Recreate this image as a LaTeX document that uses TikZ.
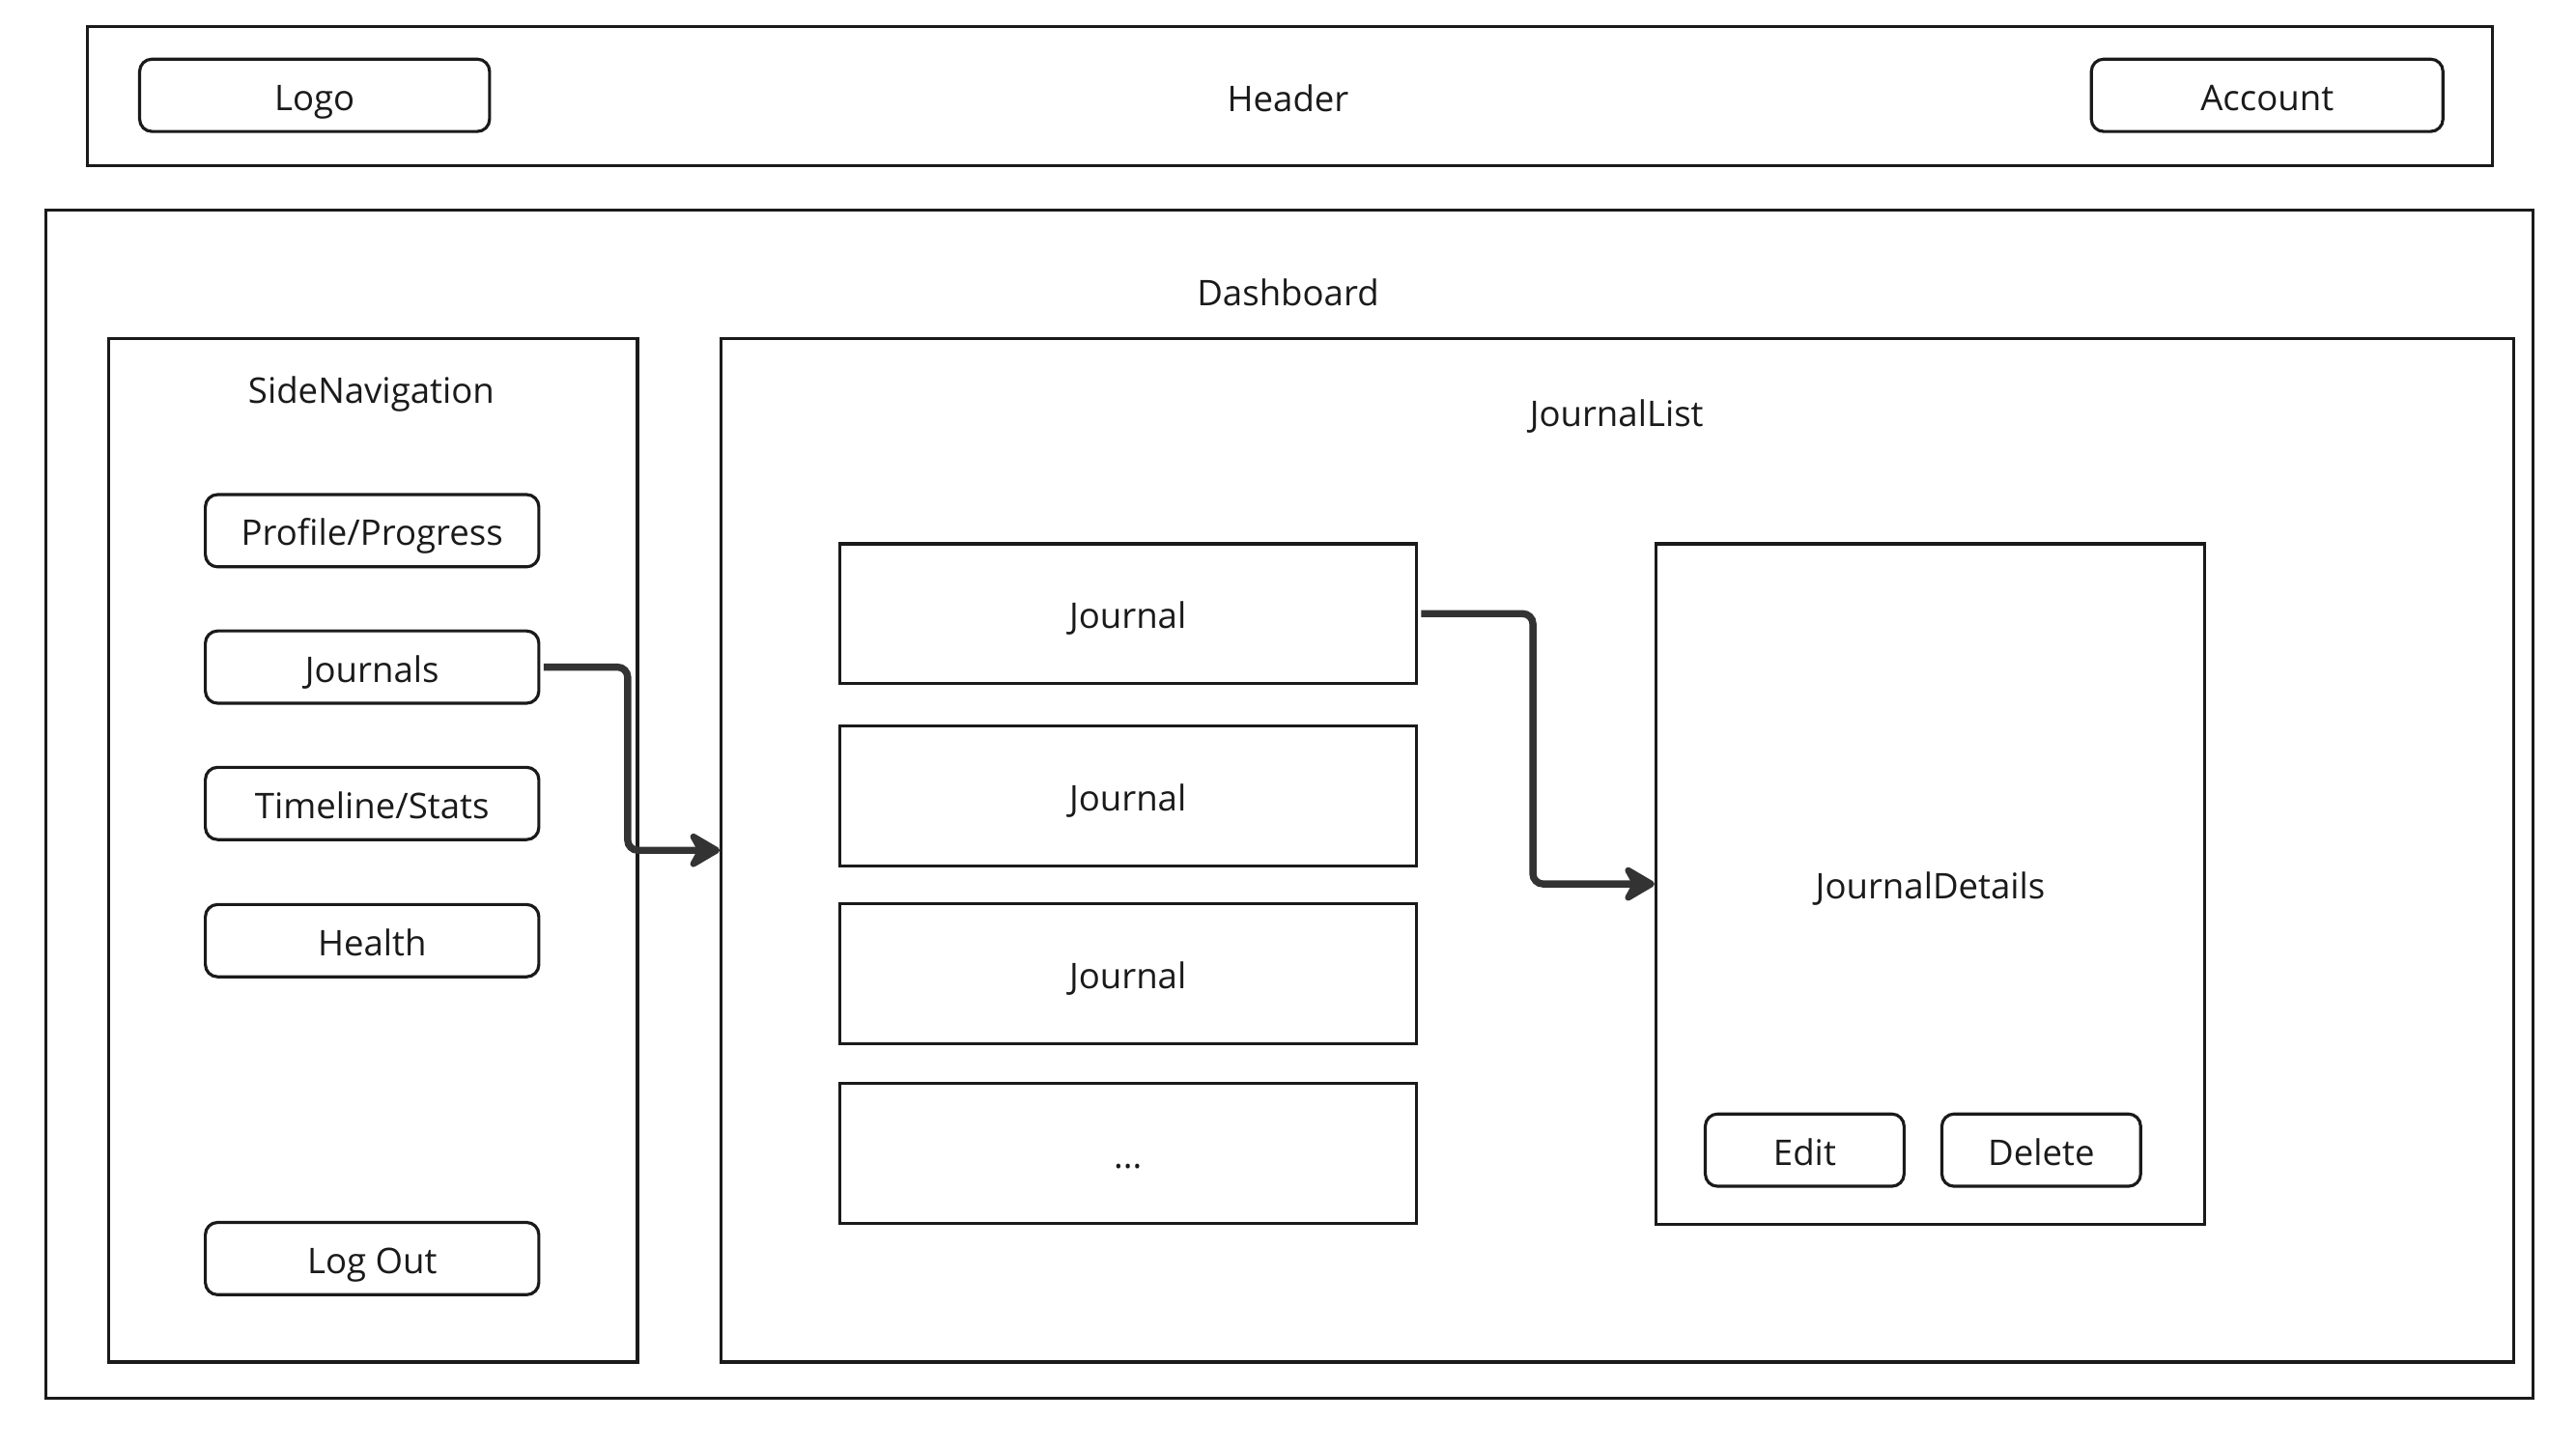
\documentclass[tikz,border=0pt]{standalone}
\usepackage{fontspec}
\setmainfont{Open Sans}
\usetikzlibrary{arrows.meta}
\newcommand{\U}{0.017cm}
\definecolor{ink}{HTML}{1A1A1A}
\definecolor{wire}{HTML}{333333}
\begin{document}
\begin{tikzpicture}[x=0.017cm, y=-0.017cm,
  every node/.style={font=\fontsize{10.4}{12}\selectfont, text=ink,
    text height=9.8pt, text depth=1pt},
  frame/.style={draw=ink, line width=0.9pt, rectangle, inner sep=0pt},
  btn/.style={draw=ink, line width=0.9pt, rectangle, rounded corners=3.6pt, inner sep=0pt,
    minimum width=203*\U, minimum height=44*\U},
  jbox/.style={frame, minimum width=351*\U, minimum height=85*\U},
  label/.style={inner sep=0pt, anchor=center},
  conn/.style={draw=wire, line width=2.1pt, rounded corners=3pt,
    -{Stealth[length=11pt, width=12.8pt, inset=3.5pt, round]}}]
  \useasboundingbox[fill=white] (0,0) rectangle (1568,881);

  % page header
  \node[frame, minimum width=1464*\U, minimum height=85*\U] (header) at (785,58.5) {};
  \node[label] (headerlbl) at (784,59) {Header};
  \node[btn, minimum width=213*\U] (logo) at (191.5,58) {Logo};
  \node[btn, minimum width=214*\U] (account) at (1380,58) {Account};

  % dashboard container
  \node[frame, minimum width=1514*\U, minimum height=723*\U] (dash) at (785,489.5) {};
  \node[label] (dashlbl) at (784,177) {Dashboard};

  % side navigation
  \node[frame, minimum width=322*\U, minimum height=623*\U] (side) at (227,517.5) {};
  \node[label] (sidelbl) at (226,236.5) {SideNavigation};
  \node[btn] (profile) at (226.5,323) {Profile/Progress};
  \node[btn] (journals) at (226.5,406) {Journals};
  \node[btn] (timeline) at (226.5,489) {Timeline/Stats};
  \node[btn] (health) at (226.5,572.5) {Health};
  \node[btn] (logout) at (226.5,766) {Log Out};

  % journal list
  \node[frame, minimum width=1091*\U, minimum height=623*\U] (jlist) at (984.5,517.5) {};
  \node[label] (jlistlbl) at (984,250.5) {JournalList};
  \node[jbox] (j1) at (686.5,373.5) {Journal};
  \node[jbox] (j2) at (686.5,484.5) {Journal};
  \node[jbox] (j3) at (686.5,592.5) {Journal};
  \node[jbox] (jmore) at (686.5,702) {...};

  % journal details
  \node[frame, minimum width=334*\U, minimum height=414*\U] (details) at (1175,538) {JournalDetails};
  \node[btn, minimum width=121*\U] (edit) at (1098.5,700) {Edit};
  \node[btn, minimum width=121*\U] (delete) at (1242.5,700) {Delete};

  % navigation flow
  \draw[conn, shorten <=1pt] (journals.east) -| ([xshift=-56*\U]jlist.west) -- (jlist.west);
  \draw[conn, shorten <=1pt] (j1.east) -| ([xshift=-74*\U]details.west) -- (details.west);
\end{tikzpicture}
\end{document}
